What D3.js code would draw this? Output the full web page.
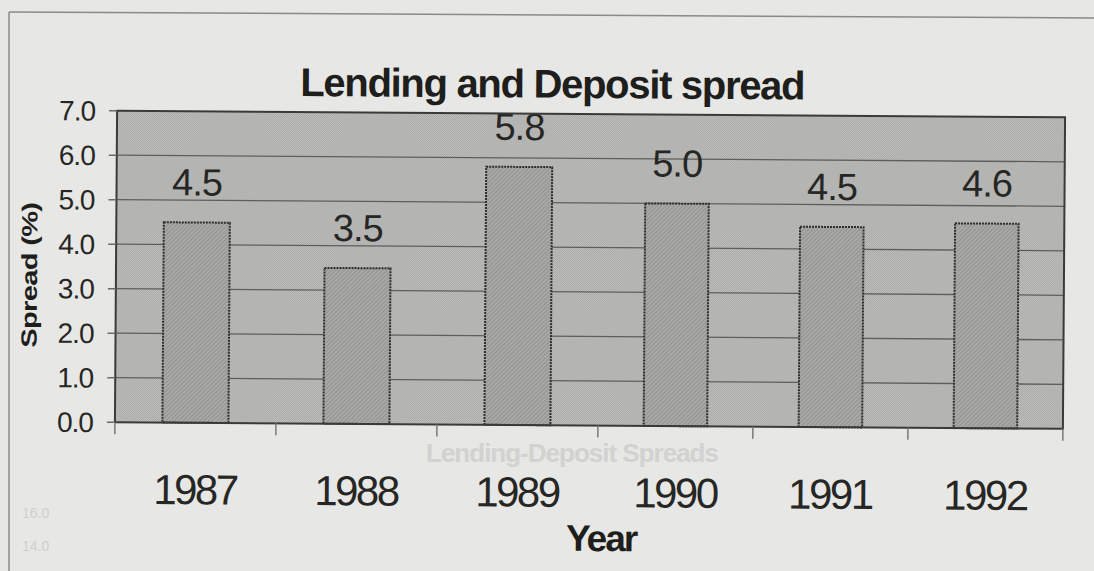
<!DOCTYPE html>
<html>
<head>
<meta charset="utf-8">
<script src="https://cdn.jsdelivr.net/npm/d3@7"></script>
<style>
  html, body { margin: 0; padding: 0; background: #e7e7e5; }
  svg { display: block; font-family: "Liberation Sans", Arial, sans-serif; }
</style>
</head>
<body>
<svg id="chart" width="1094" height="571"></svg>
<script>
const years = ['1987', '1988', '1989', '1990', '1991', '1992'];
const spreads = [4.5, 3.5, 5.8, 5.0, 4.5, 4.6];
const yTicks = [0, 1, 2, 3, 4, 5, 6, 7];
const title = 'Lending and Deposit spread';
const xTitle = 'Year';
const yTitle = 'Spread (%)';

const width = 1094, height = 571;
const plot = { left: 116, right: 1064, top: 114, bottom: 425.5 };

let svg = d3.select('#chart');

// patterns for the plot area and the bars
let defs = svg.append('defs');
let dots = defs.append('pattern')
  .attr('id', 'dots')
  .attr('width', 2).attr('height', 2)
  .attr('patternUnits', 'userSpaceOnUse');
dots.append('rect').attr('width', 2).attr('height', 2).attr('fill', '#c0c0be');
dots.append('rect').attr('width', 1).attr('height', 1).attr('fill', '#a8a8a6');
dots.append('rect').attr('x', 1).attr('y', 1).attr('width', 1).attr('height', 1).attr('fill', '#a8a8a6');

let hatch = defs.append('pattern')
  .attr('id', 'hatch')
  .attr('width', 3).attr('height', 3)
  .attr('patternUnits', 'userSpaceOnUse')
  .attr('patternTransform', 'rotate(45)');
hatch.append('rect').attr('width', 3).attr('height', 3).attr('fill', '#acacaa');
hatch.append('rect').attr('width', 1.3).attr('height', 3).attr('fill', '#929290');

// faint page frame of the scan
svg.append('line')
  .attr('x1', 9).attr('y1', 12).attr('x2', 9).attr('y2', height)
  .attr('stroke', '#8a8a88').attr('stroke-width', 1.5);
svg.append('line')
  .attr('x1', 9).attr('y1', 12).attr('x2', width).attr('y2', 18)
  .attr('stroke', '#8a8a88').attr('stroke-width', 1.5);

// ghost text from the page behind
svg.append('text')
  .attr('x', 572).attr('y', 462)
  .attr('text-anchor', 'middle')
  .attr('font-size', 26).attr('font-weight', 'bold')
  .attr('letter-spacing', -1)
  .attr('fill', '#d2d2d0')
  .text('Lending-Deposit Spreads');
svg.selectAll('text.ghost')
  .data(['16.0', '14.0'])
  .enter()
  .append('text')
  .attr('class', 'ghost')
  .attr('x', 22)
  .attr('y', (d, i) => 518 + i * 33)
  .attr('font-size', 14)
  .attr('fill', '#d0d0ce')
  .text(d => d);

// the photo is a little tilted
let g = svg.append('g')
  .attr('transform', 'rotate(0.4, 590, 270)');

// band edges, slightly compressed to the right as in the photo
let xEdge = d3.scaleLinear()
  .domain([0, 3, 6])
  .range([plot.left, 599, plot.right]);

let y = d3.scaleLinear()
  .domain([0, 7])
  .range([plot.bottom, plot.top]);

// plot area
g.append('rect')
  .attr('x', plot.left).attr('y', plot.top)
  .attr('width', plot.right - plot.left)
  .attr('height', plot.bottom - plot.top)
  .attr('fill', 'url(#dots)');

// gridlines
g.append('g')
  .selectAll('line')
  .data(yTicks.slice(1, -1))
  .enter()
  .append('line')
  .attr('x1', plot.left).attr('x2', plot.right)
  .attr('y1', d => y(d)).attr('y2', d => y(d))
  .attr('stroke', '#5e5e5c').attr('stroke-width', 1.3);

// bars
g.append('g')
  .selectAll('rect')
  .data(spreads)
  .enter()
  .append('rect')
  .attr('x', (d, i) => {
    let w = xEdge(i + 1) - xEdge(i);
    return xEdge(i + 0.5) - w * 0.205;
  })
  .attr('width', (d, i) => (xEdge(i + 1) - xEdge(i)) * 0.41)
  .attr('y', d => y(d))
  .attr('height', d => y(0) - y(d))
  .attr('fill', 'url(#hatch)')
  .attr('stroke', '#2e2e2c')
  .attr('stroke-width', 2)
  .attr('stroke-dasharray', '2 1');

// value labels
g.append('g')
  .selectAll('text')
  .data(spreads)
  .enter()
  .append('text')
  .attr('x', (d, i) => xEdge(i + 0.5))
  .attr('y', d => y(d) - 27)
  .attr('text-anchor', 'middle')
  .attr('font-size', 38)
  .attr('letter-spacing', -1)
  .attr('fill', '#262624')
  .text(d => d.toFixed(1));

// plot border
g.append('rect')
  .attr('x', plot.left).attr('y', plot.top)
  .attr('width', plot.right - plot.left)
  .attr('height', plot.bottom - plot.top)
  .attr('fill', 'none')
  .attr('stroke', '#3a3a38')
  .attr('stroke-width', 2);

// y axis
let yAxis = g.append('g');
yAxis.selectAll('line')
  .data(yTicks)
  .enter()
  .append('line')
  .attr('x1', plot.left - 8).attr('x2', plot.left)
  .attr('y1', d => y(d)).attr('y2', d => y(d))
  .attr('stroke', '#6a6a68').attr('stroke-width', 1.5);
yAxis.selectAll('text')
  .data(yTicks)
  .enter()
  .append('text')
  .attr('x', 94)
  .attr('y', d => y(d))
  .attr('dy', '0.36em')
  .attr('text-anchor', 'end')
  .attr('font-size', 28)
  .attr('letter-spacing', -1)
  .attr('fill', '#262624')
  .text(d => d.toFixed(1));

// x axis
let xAxis = g.append('g');
xAxis.selectAll('line')
  .data(d3.range(years.length + 1))
  .enter()
  .append('line')
  .attr('x1', d => xEdge(d)).attr('x2', d => xEdge(d))
  .attr('y1', plot.bottom).attr('y2', plot.bottom + 12)
  .attr('stroke', '#7a7a78').attr('stroke-width', 1.5);
xAxis.selectAll('text')
  .data(years)
  .enter()
  .append('text')
  .attr('x', (d, i) => xEdge(i + 0.5))
  .attr('y', 507)
  .attr('text-anchor', 'middle')
  .attr('font-size', 42)
  .attr('letter-spacing', -2.5)
  .attr('fill', '#262624')
  .text(d => d);

// titles
g.append('text')
  .attr('x', 551).attr('y', 98)
  .attr('text-anchor', 'middle')
  .attr('font-size', 40).attr('font-weight', 'bold')
  .attr('letter-spacing', -1.3)
  .attr('fill', '#1e1e1c')
  .text(title);

g.append('text')
  .attr('x', 603).attr('y', 551)
  .attr('text-anchor', 'middle')
  .attr('font-size', 37).attr('font-weight', 'bold')
  .attr('letter-spacing', -2)
  .attr('fill', '#1e1e1c')
  .text(xTitle);

g.append('text')
  .attr('transform', 'translate(37, 279) rotate(-90) scale(1.32, 1)')
  .attr('text-anchor', 'middle')
  .attr('font-size', 22).attr('font-weight', 'bold')
  .attr('letter-spacing', -0.5)
  .attr('fill', '#1e1e1c')
  .text(yTitle);
</script>
</body>
</html>
